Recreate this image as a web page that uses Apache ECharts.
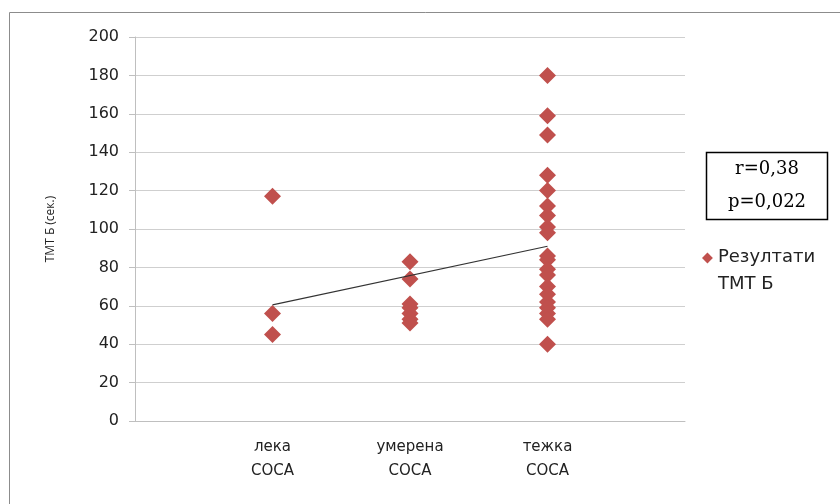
<!DOCTYPE html>
<html>
<head>
<meta charset="utf-8">
<script src="https://cdn.jsdelivr.net/npm/echarts@6/dist/echarts.min.js"></script>
<style>html,body{margin:0;padding:0;background:#fff}#c{width:840px;height:504px}</style>
</head>
<body>
<div id="c"></div>
<script>
var categories = ['лека\nСОСА', 'умерена\nСОСА', 'тежка\nСОСА'];
var lekaValues = [117, 56, 45];
var umerenaValues = [83, 74, 61, 59, 56, 53, 51];
var tezhkaValues = [180, 159, 149, 128, 120, 112, 107, 101, 98, 86, 84, 79, 76, 70, 66, 62, 59, 56, 53, 40];
var trendStart = [1, 60.5];
var trendEnd = [3, 91];
var yTicks = [0, 20, 40, 60, 80, 100, 120, 140, 160, 180, 200];

var groups = [lekaValues, umerenaValues, tezhkaValues];
var points = [];
groups.forEach(function (g, i) {
  g.forEach(function (v) { points.push([i + 1, v]); });
});

var chart = echarts.init(document.getElementById('c'));
chart.setOption({
  animation: false,
  backgroundColor: '#fff',
  grid: { left: 135, right: 155, top: 37, bottom: 83, containLabel: false },
  xAxis: {
    type: 'value', min: 0, max: 4, interval: 1,
    axisLine: { show: true, lineStyle: { color: '#BFBFBF', width: 1 } },
    axisTick: { show: false },
    splitLine: { show: false },
    axisLabel: {
      margin: 14, fontFamily: 'DejaVu Sans', fontSize: 15, color: '#222', lineHeight: 24,
      formatter: function (v) { return (v >= 1 && v <= 3) ? categories[v - 1] : ''; }
    }
  },
  yAxis: {
    type: 'value', min: yTicks[0], max: yTicks[yTicks.length - 1], interval: 20,
    name: 'ТМТ Б (сек.)', nameLocation: 'middle', nameGap: 78, nameRotate: 90,
    nameTextStyle: { fontFamily: 'Open Sans', fontSize: 12, color: '#222' },
    axisLine: { show: true, lineStyle: { color: '#BFBFBF', width: 1 } },
    axisTick: { show: true, inside: false, length: 6, lineStyle: { color: '#BFBFBF' } },
    splitLine: { show: true, lineStyle: { color: '#CFCFCF', width: 1 } },
    axisLabel: { margin: 16, fontFamily: 'DejaVu Sans', fontSize: 16, color: '#222' }
  },
  legend: {
    data: ['Резултати ТМТ Б'],
    left: 702, top: 244, padding: 0, orient: 'vertical',
    icon: 'path://M5,0L10,5L5,10L0,5ZM5,34L5,34', itemWidth: 11, itemHeight: 37,
    formatter: function () { return 'Резултати\nТМТ Б'; },
    textStyle: { fontFamily: 'DejaVu Sans', fontSize: 18, color: '#222', lineHeight: 27 }
  },
  graphic: [
    { type: 'rect', shape: { x: 9.5, y: 12.5, width: 840, height: 500 }, style: { fill: 'none', stroke: '#8C8C8C', lineWidth: 1 }, silent: true },
    { type: 'rect', shape: { x: 706.5, y: 152.5, width: 121, height: 67 }, style: { fill: '#fff', stroke: '#000', lineWidth: 1.5 }, z: 10 },
    { type: 'text', x: 767, y: 169, style: { text: 'r=0,38', fontFamily: 'DejaVu Serif', fontSize: 18, fill: '#000', align: 'center', verticalAlign: 'middle' }, z: 11 },
    { type: 'text', x: 767, y: 202, style: { text: 'p=0,022', fontFamily: 'DejaVu Serif', fontSize: 18, fill: '#000', align: 'center', verticalAlign: 'middle' }, z: 11 }
  ],
  series: [
    {
      name: 'Резултати ТМТ Б', type: 'scatter', symbol: 'diamond', symbolSize: 17,
      itemStyle: { color: '#C0504D', opacity: 1 }, data: points, z: 3
    },
    {
      name: 'trend', type: 'line', data: [trendStart, trendEnd], symbol: 'none',
      lineStyle: { color: '#333', width: 1.2 }, z: 4, silent: true
    }
  ]
});
</script>
</body>
</html>
